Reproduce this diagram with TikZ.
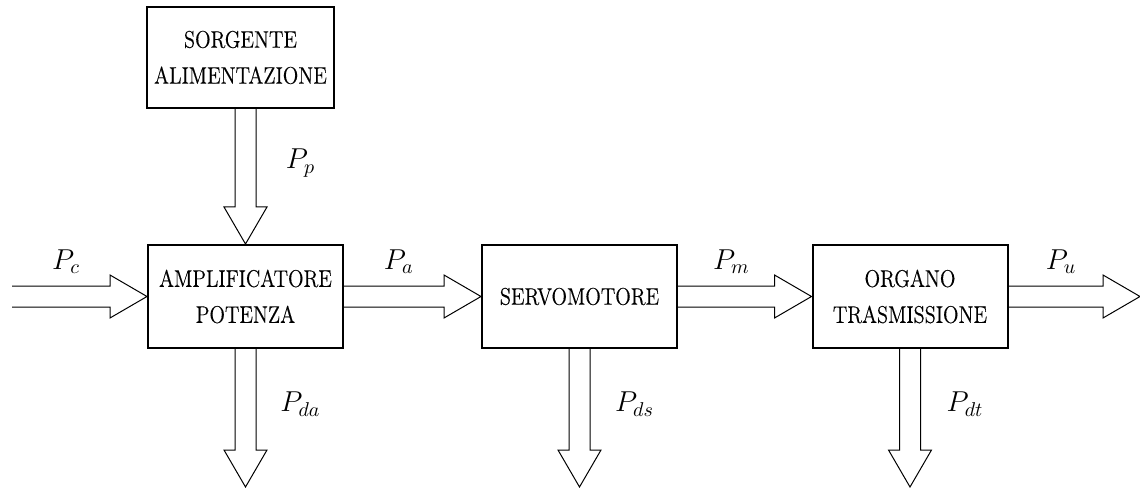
\documentclass[tikz,border=0pt]{standalone}
\usepackage{fontspec}
\newfontfamily\bloccofont[FakeStretch=0.85,FakeBold=0.4]{Latin Modern Roman}
\usetikzlibrary{calc}
\tikzset{
  blocco/.style={draw, line width=1pt, minimum width=97.5pt, minimum height=51.5pt,
    align=center, inner sep=0pt, font=\bloccofont\fontsize{12}{18}\selectfont},
  flusso/.style={line width=0.5pt, line join=miter},
  etichetta/.style={font=\Large, inner sep=0pt}
}
% freccia orizzontale a doppio tratto
\newcommand{\hflow}[3]{%
  \draw[flusso] ($(#1)+(0,10.5)$) -- ($(#2)+(-37,10.5)$) -- ++(0,11) -- (#2)
    -- ($(#2)+(-37,-21.5)$) -- ++(0,11) -- ($(#1)+(0,-10.5)$);
  \node[etichetta] at ($(#1)!0.4!(#2)+(0,34.5)$) {$#3$};}
% freccia verticale a doppio tratto
\newcommand{\vflow}[3]{%
  \draw[flusso] ($(#1)+(-10.5,0)$) -- ($(#2)+(-10.5,37)$) -- ++(-11,0) -- (#2)
    -- ($(#2)+(21.5,37)$) -- ++(-11,0) -- ($(#1)+(10.5,0)$);
  \node[etichetta] at ($(#1)!0.4!(#2)+(55,0)$) {$#3$};}
\begin{document}
\begin{tikzpicture}[x=0.5pt,y=0.5pt]
      \useasboundingbox (0,0) rectangle (1140,488);
      \draw
        (240.5,430.5) node[blocco, minimum width=93.5pt, minimum height=50.5pt] (src){SORGENTE\\ALIMENTAZIONE}
        (245.5,191.5) node[blocco] (amp){AMPLIFICATORE\\POTENZA}
        (579.5,191.5) node[blocco] (servo){SERVOMOTORE}
        (910,191.5) node[blocco] (org){ORGANO\\TRASMISSIONE};
      \coordinate (in) at (12,191.5);
      \coordinate (out) at (1140,191.5);
      \coordinate (pp) at (amp.north |- src.south);
      \coordinate (da) at (amp.south |- 0,1);
      \coordinate (ds) at (servo.south |- 0,1);
      \coordinate (dt) at (org.south |- 0,1);
      \hflow{in}{amp.west}{P_c}
      \hflow{amp.east}{servo.west}{P_a}
      \hflow{servo.east}{org.west}{P_m}
      \hflow{org.east}{out}{P_u}
      \vflow{pp}{amp.north}{P_p}
      \vflow{amp.south}{da}{P_{da}}
      \vflow{servo.south}{ds}{P_{ds}}
      \vflow{org.south}{dt}{P_{dt}}
    \end{tikzpicture}
\end{document}
